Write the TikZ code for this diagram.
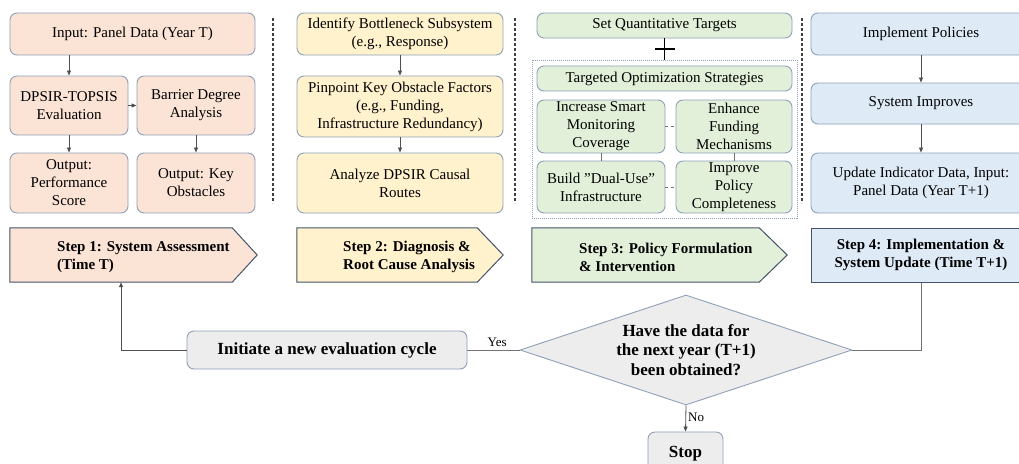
\documentclass[tikz,border=0pt]{standalone}
\usepackage{fontspec}
\setmainfont{LiberationSerif}[Extension=.ttf,UprightFont=*-Regular,BoldFont=*-Bold,ItalicFont=*-Italic,BoldItalicFont=*-BoldItalic]
\usetikzlibrary{shapes.geometric,arrows.meta,calc}
\definecolor{peach}{HTML}{FBE3D6}
\definecolor{lyellow}{HTML}{FFF2CC}
\definecolor{lgreen}{HTML}{E2F0D9}
\definecolor{lblue}{HTML}{DEEBF7}
\definecolor{lgray}{HTML}{EDEDED}
\definecolor{bordc}{HTML}{8FA0B8}
\definecolor{bandc}{HTML}{44546A}
\definecolor{linec}{HTML}{505050}
\begin{document}
\begin{tikzpicture}[x=1pt,y=-1pt,
  box/.style={draw=bordc, rounded corners=7pt, line width=0.9pt, align=center,
    font=\rmfamily\fontsize{15}{18}\selectfont, inner sep=0pt},
  bandshape/.style={draw=bandc, line width=1pt},
  bandarea/.style={minimum height=54pt, inner sep=0pt},
  steptext/.style={font=\rmfamily\bfseries\fontsize{15}{18}\selectfont, align=left, inner sep=0pt},
  arr/.style={draw=linec, line width=0.8pt, -{Triangle[length=5pt,width=4pt]}},
  conn/.style={draw=linec!80, line width=0.9pt},
  sep/.style={draw=black!75, line width=1.2pt, dash pattern=on 3pt off 2pt},
  lbl/.style={font=\rmfamily\fontsize{13}{15}\selectfont, inner sep=0pt}]
\clip (0,0) rectangle (1019,463);
\fill[white] (0,0) rectangle (1019,463);

% separators
\draw[sep] (273,18) -- (273,203);
\draw[sep] (515,18) -- (515,203);
\draw[sep] (802,18) -- (802,203);

% ---------- Step 1 column
\node[box, fill=peach, minimum width=245pt, minimum height=42pt] (in1) at (132.5,34) {Input: Panel Data (Year T)};
\node[box, fill=peach, minimum width=118pt, minimum height=59pt] (dt) at (69,105.5) {DPSIR-TOPSIS\\Evaluation};
\node[box, fill=peach, minimum width=118pt, minimum height=59pt] (bd) at (196,105.5) {Barrier Degree\\Analysis};
\node[box, fill=peach, minimum width=118pt, minimum height=60pt] (op) at (69,183) {Output:\\Performance\\Score};
\node[box, fill=peach, minimum width=118pt, minimum height=60pt] (ko) at (196,183) {Output: Key\\Obstacles};
\draw[arr] (in1.south -| dt.north) -- (dt.north);
\draw[arr] (dt.east) -- (bd.west);
\draw[arr] (dt.south) -- (op.north);
\draw[arr] (bd.south) -- (ko.north);

% ---------- Step 2 column
\node[box, fill=lyellow, minimum width=206pt, minimum height=42pt] (ib) at (400,34) {Identify Bottleneck Subsystem\\(e.g., Response)};
\node[box, fill=lyellow, minimum width=206pt, minimum height=61pt] (pk) at (400,106.5) {Pinpoint Key Obstacle Factors\\(e.g., Funding,\\Infrastructure Redundancy)};
\node[box, fill=lyellow, minimum width=206pt, minimum height=60pt] (ad) at (400,183) {Analyze DPSIR Causal\\Routes};
\draw[arr] (ib.south) -- (pk.north);
\draw[arr] (pk.south) -- (ad.north);

% ---------- Step 3 column
\node[box, fill=lgreen, minimum width=255pt, minimum height=25pt] (sq) at (664.5,25.5) {Set Quantitative Targets};
\node[draw=bordc, line width=0.8pt, dash pattern=on 1pt off 1pt, minimum width=265pt, minimum height=158pt, inner sep=0pt] (cont) at (664.5,139) {};
\node[box, fill=lgreen, minimum width=255pt, minimum height=25pt] (to) at (664.5,78.5) {Targeted Optimization Strategies};
\node[box, fill=lgreen, minimum width=128pt, minimum height=53pt] (is) at (601,126.5) {Increase Smart\\Monitoring\\Coverage};
\node[box, fill=lgreen, minimum width=116pt, minimum height=53pt] (ef) at (734,126.5) {Enhance\\Funding\\Mechanisms};
\node[box, fill=lgreen, minimum width=128pt, minimum height=52pt] (bu) at (601,187) {Build "Dual-Use"\\Infrastructure};
\node[box, fill=lgreen, minimum width=116pt, minimum height=52pt] (ip) at (734,187) {Improve\\Policy\\Completeness};
\draw[black, line width=1.1pt] (sq.south) -- (cont.north);
\draw[black, line width=1.1pt] ($(sq.south)!0.5!(cont.north)+(-10,0)$) -- ++(20,0);
\draw[conn, dashed] (is.east) -- (ef.west);
\draw[conn, dashed] (bu.east) -- (ip.west);
\draw[conn] (is.south) -- (bu.north);
\draw[conn] (ef.south) -- (ip.north);

% ---------- Step 4 column
\node[box, fill=lblue, minimum width=220pt, minimum height=42pt] (ip1) at (921,34) {Implement Policies};
\node[box, fill=lblue, minimum width=220pt, minimum height=41pt] (si) at (921,103.5) {System Improves};
\node[box, fill=lblue, minimum width=220pt, minimum height=60pt] (ud) at (921,183) {Update Indicator Data, Input:\\Panel Data (Year T+1)};
\draw[arr] (ip1.south) -- (si.north);
\draw[arr] (si.south) -- (ud.north);

% ---------- Step banners
\node[bandarea, minimum width=222pt] (s1) at (121,255) {};
\draw[bandshape, fill=peach] (s1.north west) -- (s1.north east) -- ($(s1.east)+(25,0)$) -- (s1.south east) -- (s1.south west) -- cycle;
\node[steptext, anchor=west] (s1t) at (57,257) {Step 1: System Assessment\\(Time T)};

\node[bandarea, minimum width=180pt] (s2) at (387,255) {};
\draw[bandshape, fill=lyellow] (s2.north west) -- (s2.north east) -- ($(s2.east)+(26,0)$) -- (s2.south east) -- (s2.south west) -- cycle;
\node[steptext, anchor=west] (s2t) at (343,257) {Step 2: Diagnosis \&\\Root Cause Analysis};

\node[bandarea, minimum width=227pt] (s3) at (645.5,255) {};
\draw[bandshape, fill=lgreen] (s3.north west) -- (s3.north east) -- ($(s3.east)+(28,0)$) -- (s3.south east) -- (s3.south west) -- cycle;
\node[steptext, anchor=west] (s3t) at (579,257) {Step 3: Policy Formulation\\\& Intervention};

\node[bandarea, bandshape, fill=lblue, minimum width=220pt, steptext, align=center] (s4) at (921,255) {Step 4: Implementation \&\\System Update (Time T+1)};

% ---------- Bottom flow
\node[box, fill=lgray, minimum width=280pt, minimum height=38pt, font=\rmfamily\bfseries\fontsize{17}{20}\selectfont] (init) at (327,350) {Initiate a new evaluation cycle};
\node[diamond, draw=bordc, line width=0.9pt, fill=lgray, aspect=3, inner sep=0pt,
  minimum width=332pt, minimum height=110pt, align=center,
  font=\rmfamily\bfseries\fontsize{17}{19.5}\selectfont] (dia) at (686,350) {Have the data for\\the next year (T+1)\\been obtained?};
\node[box, fill=lgray, minimum width=75pt, minimum height=44pt, font=\rmfamily\bfseries\fontsize{17}{20}\selectfont] (stop) at (685.5,454) {Stop};

\draw[arr] (init.west) -| (s1.south);
\draw[conn] (dia.west) -- (init.east) node[lbl, pos=0.43, above=3pt] (yes) {Yes};
\draw[conn] (s4.south) |- (dia.east);
\draw[arr] (dia.south) -- (stop.north) node[lbl, pos=0.45, right=2pt] (no) {No};
\end{tikzpicture}
\end{document}
